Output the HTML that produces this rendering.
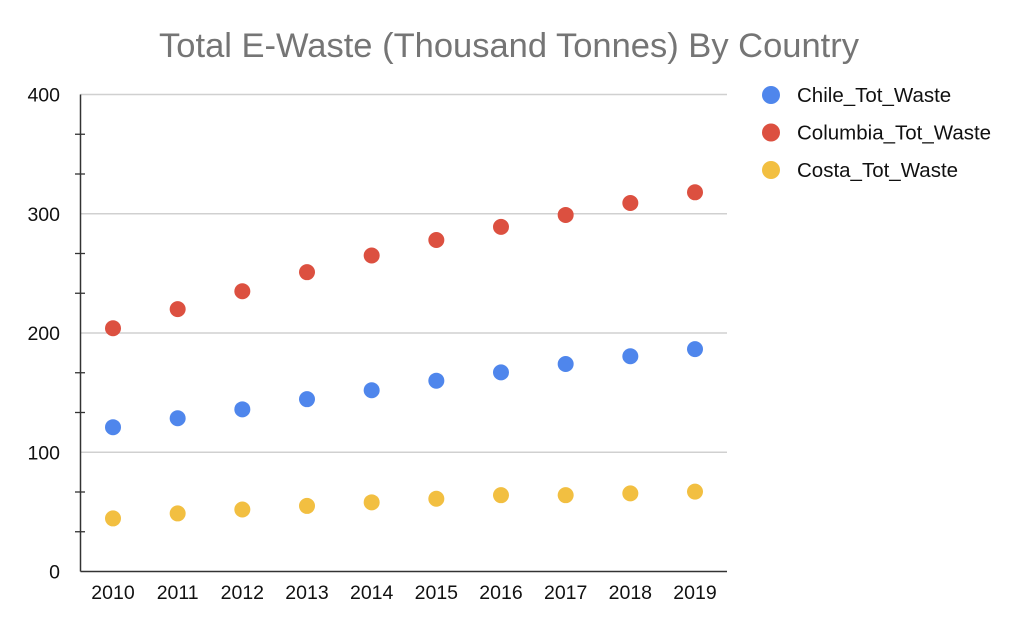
<!DOCTYPE html>
<html><head><meta charset="utf-8"><style>
body{margin:0;background:#fff;}
svg{display:block;font-family:"Liberation Sans",Arial,sans-serif;}
</style></head><body>
<svg id="chart" width="1016" height="620">
<text x="509" y="57" text-anchor="middle" font-size="34.5" fill="#757575">Total E-Waste (Thousand Tonnes) By Country</text>
<g id="grid"></g><g id="axes"></g><g id="marks"></g><g id="legend"></g>
</svg>
<script>
const years=["2010","2011","2012","2013","2014","2015","2016","2017","2018","2019"];
const chile=[121,128.5,136,144.5,152,160,167,174,180.5,186.5];
const columbia=[204,220,235,251,265,278,289,299,309,318];
const costa=[44.5,48.7,52,55,58,61,64,64,65.5,67];
const yTicks=[0,100,200,300,400];
const seriesNames=["Chile_Tot_Waste","Columbia_Tot_Waste","Costa_Tot_Waste"];
const colors=["#4f86ec","#dc5040","#f2bf41"];
const NS="http://www.w3.org/2000/svg";
const x0=80.5,x1=727,yb=571.5,yt=94.5;
const xs=i=>113+i*(695-113)/9;
const ys=v=>yb-v*(yb-yt)/400;
function mk(t,a,p){const e=document.createElementNS(NS,t);for(const k in a)e.setAttribute(k,a[k]);p.appendChild(e);return e;}
const grid=document.getElementById('grid'),axes=document.getElementById('axes'),marks=document.getElementById('marks'),legend=document.getElementById('legend');
yTicks.forEach(v=>{
 if(v>0){const g=mk('line',{x1:x0,x2:x1,y1:ys(v),y2:ys(v),stroke:'#d0d0d0','stroke-width':1.5},grid);
 
 }
 const t=mk('text',{x:60,y:ys(v)+7,'text-anchor':'end','font-size':19.5,fill:'#111'},axes);t.textContent=v;
 
 
});
for(let k=0;k<12;k++){if(k%3===0)continue;const v=k*100/3;
 const m=mk('line',{x1:75,x2:85,y1:ys(v),y2:ys(v),stroke:'#333','stroke-width':1.3},axes);
 
 }
const ya=mk('line',{x1:x0,x2:x0,y1:yt,y2:yb,stroke:'#333','stroke-width':1.5},axes);


const xa=mk('line',{x1:x0,x2:x1,y1:yb,y2:yb,stroke:'#333','stroke-width':1.5},axes);


years.forEach((y,i)=>{const t=mk('text',{x:xs(i),y:599,'text-anchor':'middle','font-size':19.5,fill:'#111'},axes);t.textContent=y;
 
 });
[chile,columbia,costa].forEach((s,j)=>{s.forEach((v,i)=>{
 const c=mk('circle',{cx:xs(i),cy:ys(v),r:8,fill:colors[j]},marks);
 
 });
 const c=mk('circle',{cx:771,cy:95+j*37.5,r:9,fill:colors[j]},legend);
 
 
 const t=mk('text',{x:797,y:102+j*37.5,'font-size':20.5,fill:'#111'},legend);t.textContent=seriesNames[j];
 
 
});
</script>
</body></html>
